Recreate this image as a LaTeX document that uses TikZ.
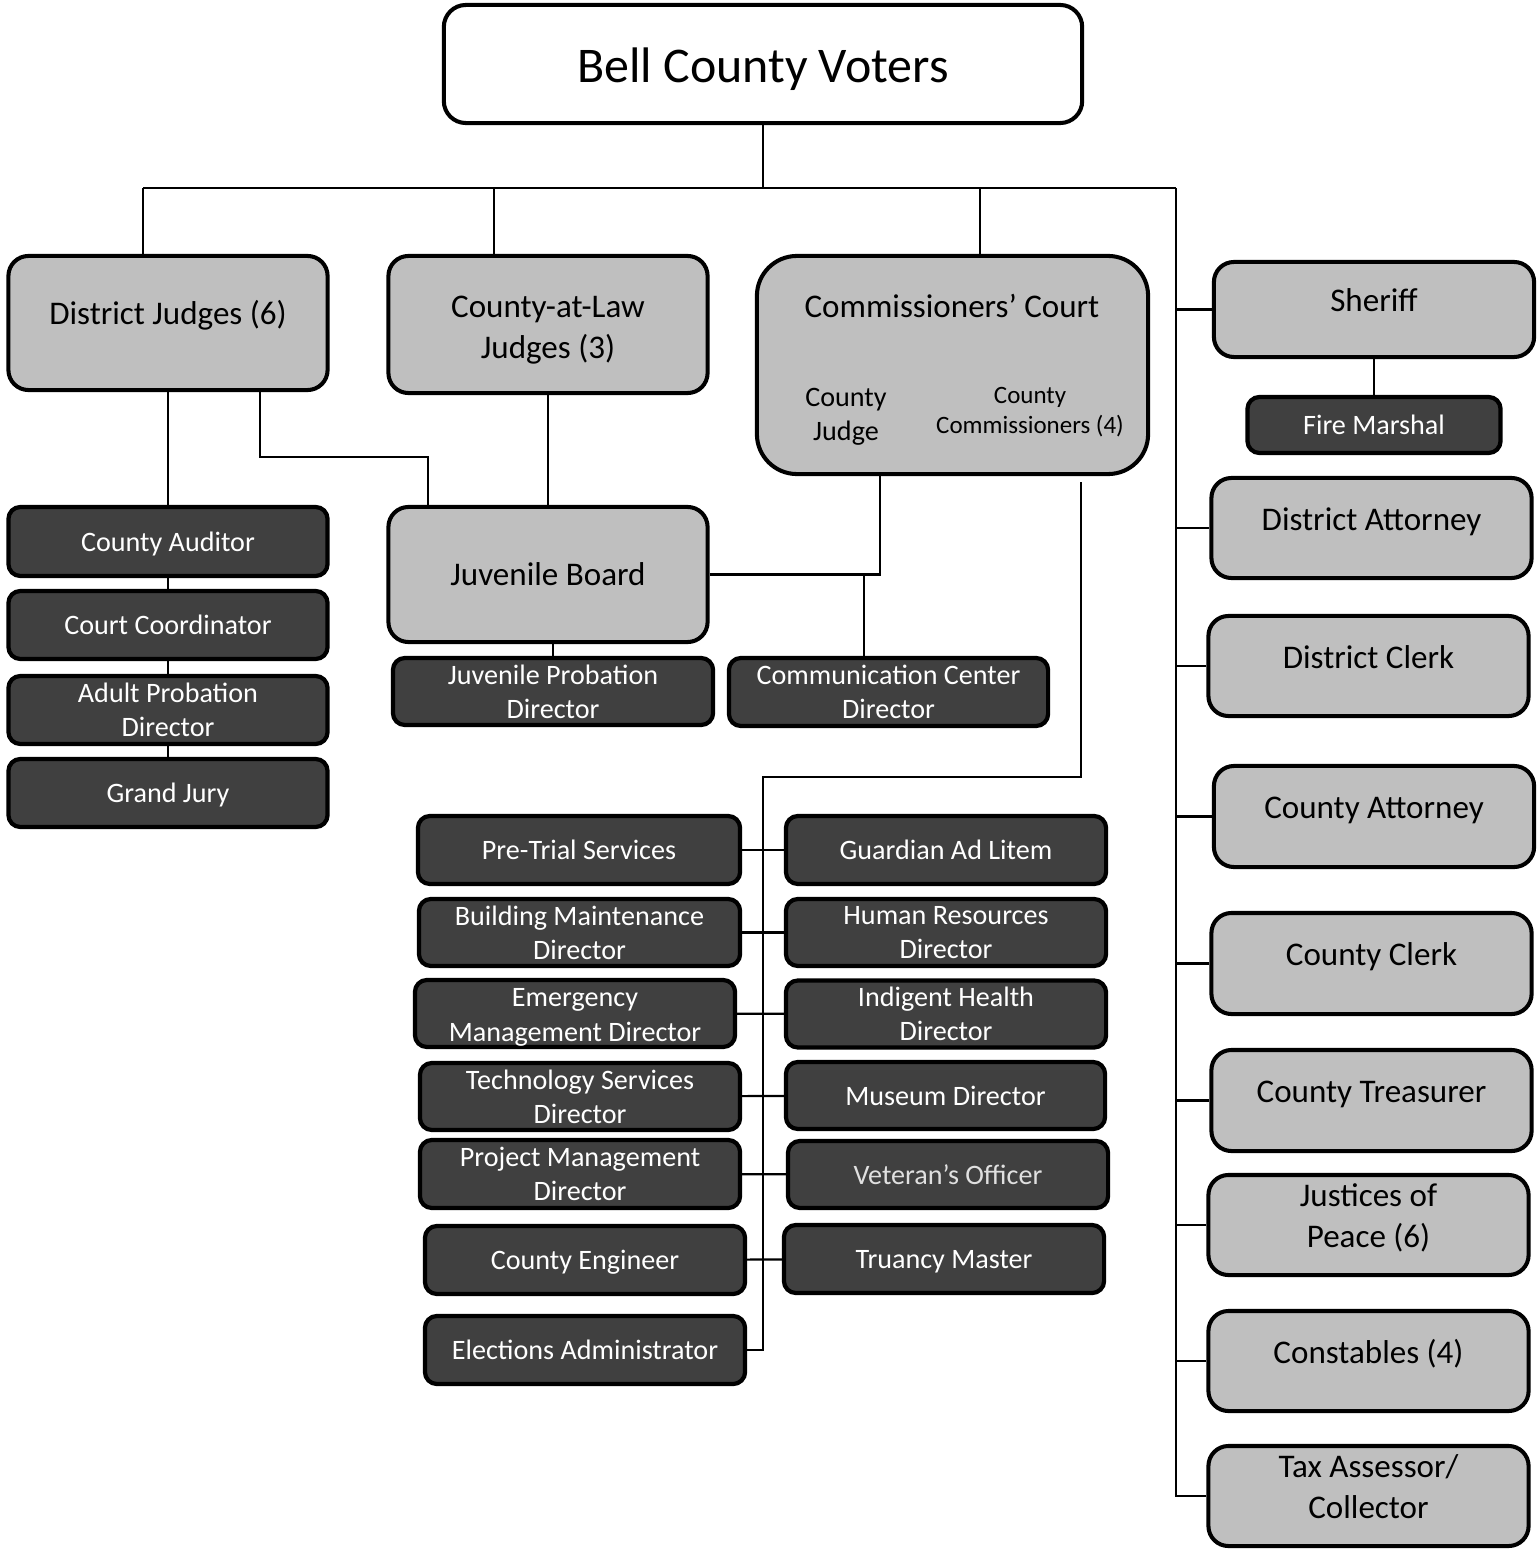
\documentclass[tikz,border=0pt]{standalone}
\usepackage{fontspec}
\setmainfont{Carlito}
\definecolor{boardgray}{HTML}{BFBFBF}
\definecolor{officegray}{HTML}{404040}
\tikzset{
  board/.style={draw=black, line width=1.15pt, fill=boardgray, rounded corners=0.2cm,
    minimum width=3.2cm, minimum height=1cm, inner sep=0pt, align=center,
    font=\fontsize{9.4}{11.7}\selectfont},
  office/.style={draw=black, line width=1.2pt, fill=officegray, text=white, rounded corners=0.12cm,
    minimum width=3.2cm, minimum height=0.68cm, inner sep=0pt, align=center,
    font=\fontsize{8}{9.7}\selectfont},
  onbase/.style={text height=0.04cm, text depth=0pt},
  single/.style={text height=0.19cm, text depth=0pt},
  twolines/.style={text height=0.45cm, text depth=0pt},
  link/.style={line width=0.6pt}
}
\begin{document}
\begin{tikzpicture}[x=0.01cm, y=-0.01cm]
    \useasboundingbox (0,0) rectangle (1538,1549);
    % top
    \node[board, fill=white, rounded corners=0.22cm, minimum width=6.38cm, minimum height=1.18cm,
      text height=0.36cm, text depth=0pt, font=\fontsize{14.2}{17}\selectfont] (voters) at (763,64) {Bell County Voters};
    % elected boards
    \node[board, onbase, minimum width=3.19cm, minimum height=1.34cm] (dj) at (168,323) {District Judges (6)};
    \node[board, text height=0.68cm, text depth=0pt, minimum width=3.19cm, minimum height=1.37cm] (cal) at (548,324.5) {County-at-Law\\Judges (3)};
    \node[board, rounded corners=0.4cm, minimum width=3.91cm, minimum height=2.18cm] (court) at (952.5,365) {};
    \node[font=\fontsize{9.4}{11.7}\selectfont] (courttitle) at (952,306) {Commissioners’ Court};
    \node[align=center, font=\fontsize{8}{9.7}\selectfont] (cjudge) at (846,417) {County\\Judge};
    \node[align=center, font=\fontsize{7.1}{8.5}\selectfont] (ccomm) at (1030,412) {County\\Commissioners (4)};
    \node[board, minimum width=3.19cm, minimum height=1.35cm] (jb) at (548,574.5) {Juvenile Board};
    % right column
    \node[board, onbase, minimum height=0.95cm] (sheriff) at (1374,309.5) {Sheriff};
    \node[office, single, minimum width=2.53cm, minimum height=0.56cm] (firemarshal) at (1374,425) {Fire Marshal};
    \node[board, onbase] (da) at (1371.5,528) {District Attorney};
    \node[board, onbase] (dclerk) at (1368.5,666) {District Clerk};
    \node[board, onbase, minimum height=1.01cm] (cattorney) at (1374,816.5) {County Attorney};
    \node[board, onbase, minimum height=1.01cm] (cclerk) at (1371.5,963.5) {County Clerk};
    \node[board, onbase, minimum height=1.01cm] (ctreasurer) at (1371.5,1100.5) {County Treasurer};
    \node[board, twolines] (jp) at (1368.5,1225) {Justices of\\Peace (6)};
    \node[board, onbase] (const) at (1368.5,1361) {Constables (4)};
    \node[board, twolines] (tax) at (1368.5,1496) {Tax Assessor/\\Collector};
    % district judges staff
    \node[office, single, minimum width=3.19cm, minimum height=0.69cm] (aud) at (168,541.5) {County Auditor};
    \node[office, single, minimum width=3.19cm] (coord) at (168,625) {Court Coordinator};
    \node[office, minimum width=3.19cm] (adultprob) at (168,710) {Adult Probation\\Director};
    \node[office, single, minimum width=3.19cm] (grandjury) at (168,793) {Grand Jury};
    \node[office, minimum height=0.67cm] (jpd) at (553,691.5) {Juvenile Probation\\Director};
    \node[office, minimum width=3.19cm] (ccd) at (888.5,692) {Communication Center\\Director};
    % commissioners staff
    \node[office, single, minimum width=3.22cm] (pretrial) at (579,850) {Pre-Trial Services};
    \node[office, minimum width=3.21cm, minimum height=0.67cm] (bldg) at (579.5,932.5) {Building Maintenance\\Director};
    \node[office, minimum height=0.67cm, text height=0.55cm, text depth=0pt] (emerg) at (575,1013.5) {Emergency\\Management Director};
    \node[office, minimum height=0.67cm] (tech) at (580,1096.5) {Technology Services\\Director};
    \node[office] (proj) at (580,1174) {Project Management\\Director};
    \node[office, single] (engineer) at (585,1260) {County Engineer};
    \node[office, single] (elections) at (585,1350) {Elections Administrator};
    \node[office, single] (guardian) at (946,850) {Guardian Ad Litem};
    \node[office, minimum height=0.67cm] (hr) at (946,932.5) {Human Resources\\Director};
    \node[office, minimum height=0.67cm] (indigent) at (946,1014) {Indigent Health\\Director};
    \node[office, single, minimum width=3.19cm, minimum height=0.67cm] (museum) at (945.5,1095.5) {Museum Director};
    \node[office, single, minimum height=0.67cm, text=black!12] (veteran) at (948,1174.5) {Veteran’s Officer};
    \node[office, single] (truancy) at (944,1259) {Truancy Master};
    % bus from the voters
    \coordinate (busL) at (143,188);
    \coordinate (busCAL) at (494,188);
    \coordinate (busM) at (763,188);
    \coordinate (busCC) at (980,188);
    \coordinate (busR) at (1176,188);
    \draw[link] (voters) -- (busM);
    \draw[link] (busL) -- (busR);
    \draw[link] (busL) -- (busL |- dj.north);
    \draw[link] (busCAL) -- (busCAL |- cal.north);
    \draw[link] (busCC) -- (busCC |- court.north);
    \draw[link] (busR) |- (tax.west);
    \draw[link] (busR |- sheriff.west) -- (sheriff.west);
    \draw[link] (busR |- da.west) -- (da.west);
    \draw[link] (busR |- dclerk.west) -- (dclerk.west);
    \draw[link] (busR |- cattorney.west) -- (cattorney.west);
    \draw[link] (busR |- cclerk.west) -- (cclerk.west);
    \draw[link] (busR |- ctreasurer.west) -- (ctreasurer.west);
    \draw[link] (busR |- jp.west) -- (jp.west);
    \draw[link] (busR |- const.west) -- (const.west);
    \draw[link] (sheriff) -- (firemarshal);
    % judges
    \draw[link] (dj) -- (aud);
    \draw[link] (aud) -- (coord);
    \draw[link] (coord) -- (adultprob);
    \draw[link] (adultprob) -- (grandjury);
    \coordinate (jbknee) at (428,457);
    \draw[link] ([xshift=0.92cm]dj.south) |- (jbknee) -- (jbknee |- jb.north);
    \draw[link] (cal) -- (jb);
    \draw[link] (jb.south -| jpd.north) -- (jpd.north);
    % commissioners
    \coordinate (tee) at (864,574);
    \draw[link] (jb.east) -| ([xshift=-0.725cm]court.south);
    \draw[link] (tee) -- (tee |- ccd.north);
    \coordinate (midbus) at (763,777);
    \draw[link] ([xshift=1.285cm,yshift=-0.06cm]court.south) |- (midbus) |- (elections.east);
    \draw[link] (pretrial) -- (guardian);
    \draw[link] (bldg) -- (hr);
    \draw[link] (emerg) -- (indigent);
    \draw[link] (tech) -- (museum);
    \draw[link] (proj) -- (veteran);
    \draw[link] (engineer) -- (truancy);
\end{tikzpicture}
\end{document}
